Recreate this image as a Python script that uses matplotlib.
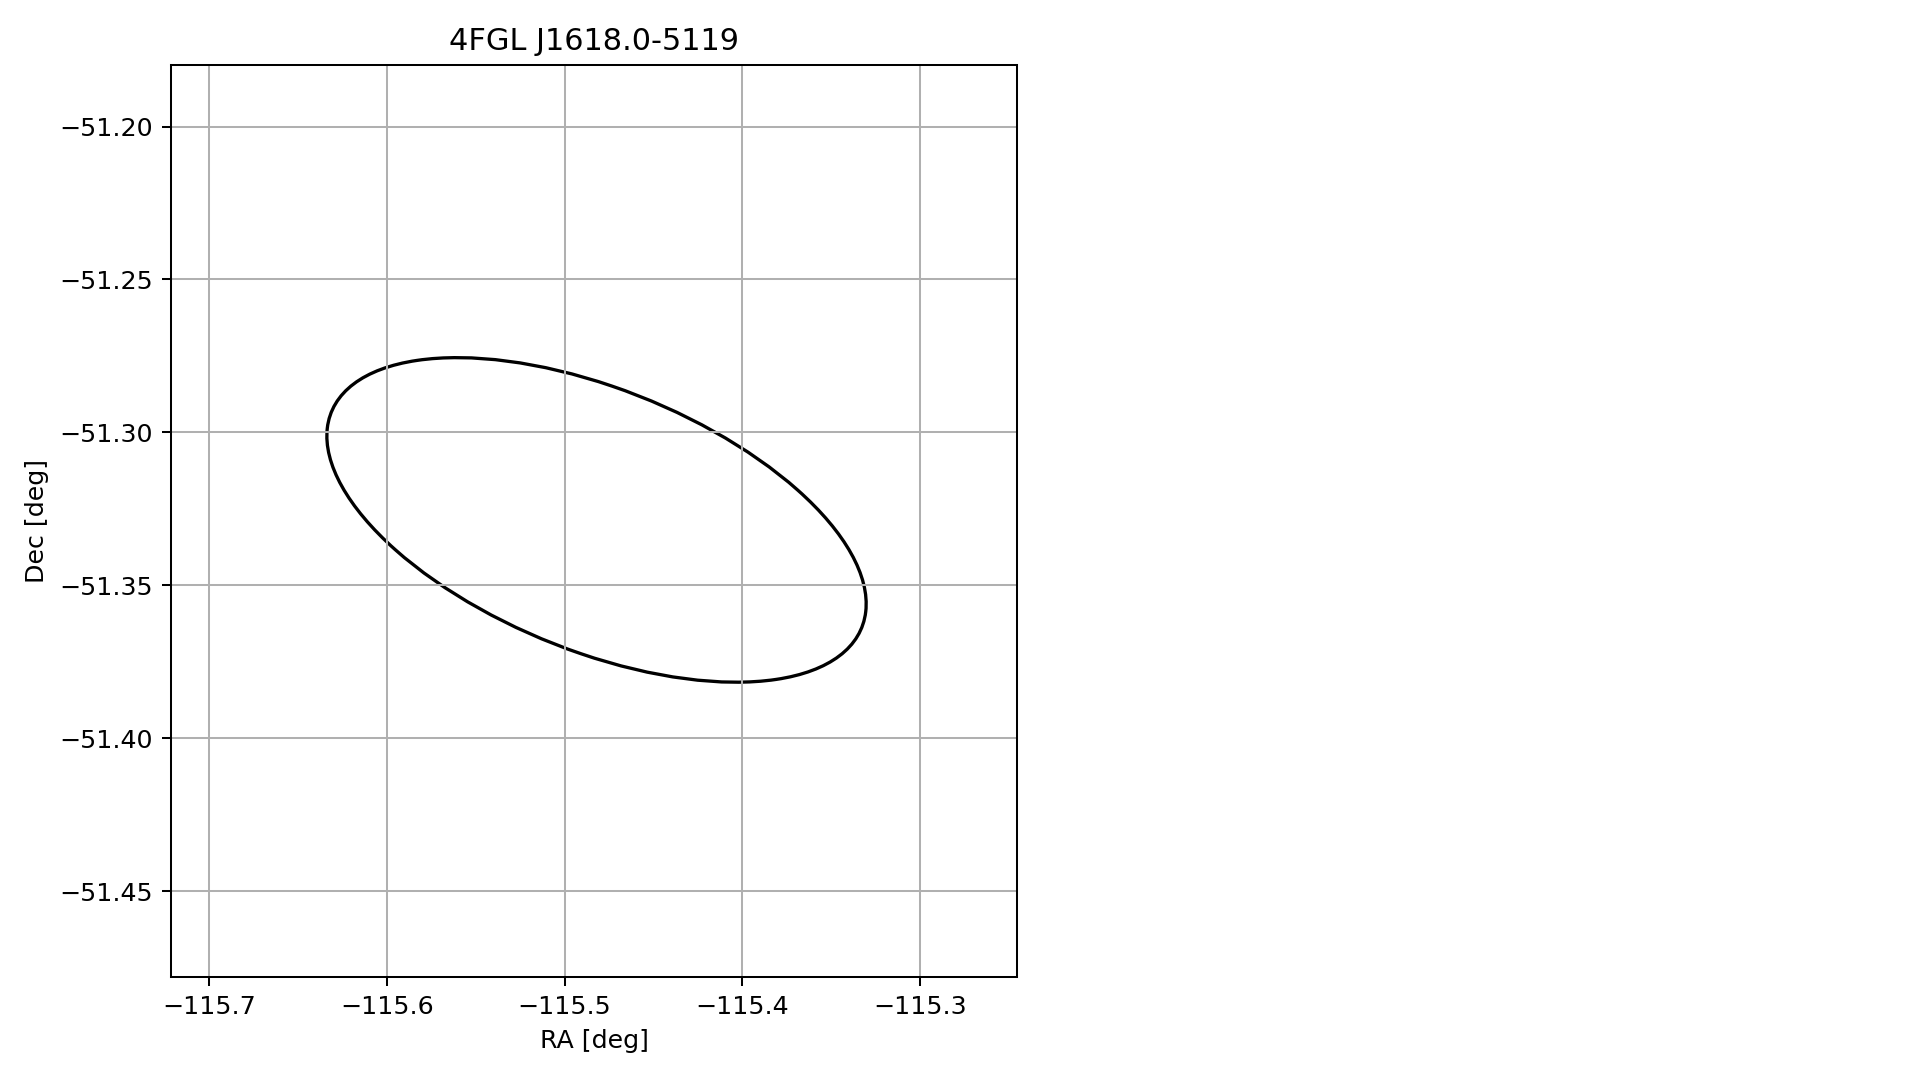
import matplotlib
matplotlib.use("Agg")
import matplotlib.pyplot as plt
from matplotlib.patches import Ellipse

fuente = "4FGL J1618.0-5119"

# elipse de error (en grados, coordenadas del grafico)
centro_ra = -115.482
centro_dec = -51.3286
ancho = 0.3088
alto = 0.0892
angulo = -11.2

ra_lim = [-115.7214, -115.2454]
dec_lim = [-51.478, -51.1799]
ra_ticks = [-115.7, -115.6, -115.5, -115.4, -115.3]
dec_ticks = [-51.20, -51.25, -51.30, -51.35, -51.40, -51.45]

dpi = 182
fig = plt.figure(figsize=(1919 / dpi, 1080 / dpi), dpi=dpi)
ax = fig.add_axes([0.0891, 0.0954, 0.4409, 0.8444])

elipse = Ellipse((centro_ra, centro_dec), ancho, alto, angle=angulo,
                 fill=False, edgecolor="black", lw=1.3)
ax.add_patch(elipse)

ax.set_xlim(ra_lim)
ax.set_ylim(dec_lim)
ax.set_xticks(ra_ticks)
ax.set_yticks(dec_ticks)
ax.grid(True)
ax.set_xlabel("RA [deg]")
ax.set_ylabel("Dec [deg]")
ax.set_title(fuente)

fig.savefig("out.png", dpi=dpi)
